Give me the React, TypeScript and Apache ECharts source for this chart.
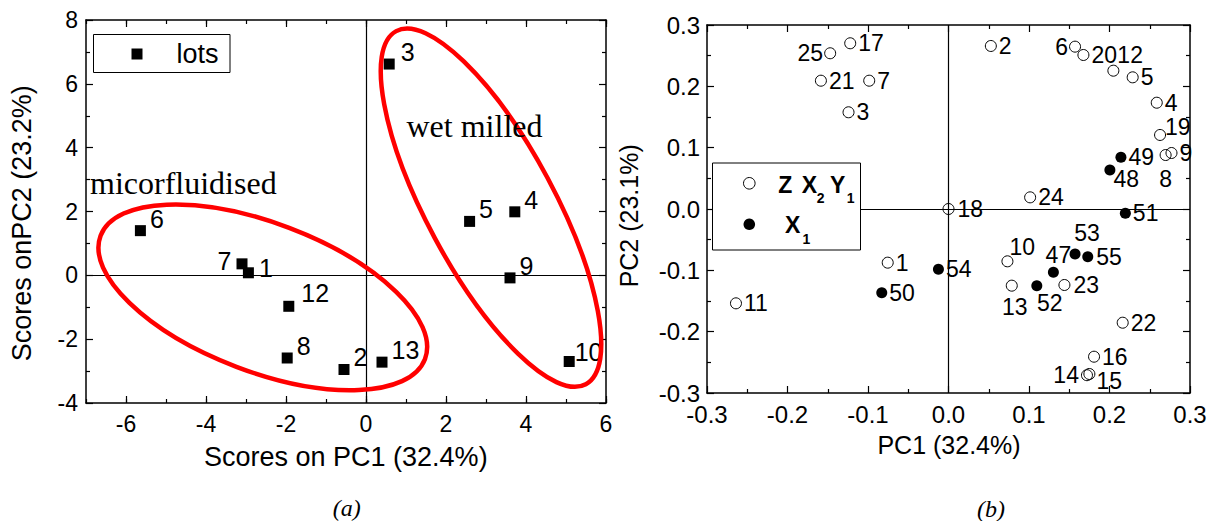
import React, { useEffect, useRef } from "react";
import * as echarts from "echarts";

// ---------------- data ----------------
// panel (a): scores of lots
const lotIds = ["1", "2", "3", "4", "5", "6", "7", "8", "9", "10", "12", "13"];
const lotPC1 = [-2.94, -0.55, 0.58, 3.72, 2.59, -5.64, -3.1, -1.97, 3.6, 5.08, -1.93, 0.4];
const lotPC2 = [0.08, -2.95, 6.62, 1.99, 1.69, 1.4, 0.36, -2.59, -0.08, -2.7, -0.97, -2.72];

// panel (b): Z X2 Y1 variables (open circles)
const zxyIds = ["1", "2", "3", "4", "5", "6", "7", "8", "9", "10", "11", "12", "13", "14", "15", "16", "17", "18", "19", "20", "21", "22", "23", "24", "25"];
const zxyPC1 = [-0.0755, 0.0526, -0.1242, 0.2587, 0.2288, 0.1572, -0.0985, 0.2697, 0.277, 0.0732, -0.264, 0.2048, 0.0786, 0.172, 0.175, 0.1808, -0.1221, 0.0, 0.2628, 0.1676, -0.1585, 0.2164, 0.144, 0.1014, -0.147];
const zxyPC2 = [-0.0875, 0.2658, 0.1577, 0.1733, 0.2147, 0.2647, 0.2092, 0.088, 0.0913, -0.0853, -0.1538, 0.2255, -0.125, -0.271, -0.269, -0.2408, 0.2702, 0.0, 0.1207, 0.2511, 0.2092, -0.1854, -0.1239, 0.019, 0.2539];

// panel (b): X1 variables (filled circles)
const x1Ids = ["47", "48", "49", "50", "51", "52", "53", "54", "55"];
const x1PC1 = [0.1303, 0.2005, 0.2142, -0.0829, 0.2197, 0.1097, 0.1572, -0.0125, 0.173];
const x1PC2 = [-0.1033, 0.0636, 0.0843, -0.1364, -0.0071, -0.125, -0.0734, -0.0984, -0.0777];

// tick labels
const leftXTicks = [-6, -4, -2, 0, 2, 4, 6];
const leftYTicks = [-4, -2, 0, 2, 4, 6, 8];
const rightTicks = [-0.3, -0.2, -0.1, 0.0, 0.1, 0.2, 0.3];

// group ellipses (centres in data units of panel a)
const groupNames = ["micorfluidised", "wet milled"];
const ellipseCenterPC1 = [-2.58, 3.125];
const ellipseCenterPC2 = [-0.69, 2.12];

// ---------------- styles ----------------
const SANS = '"Liberation Sans", Arial, Helvetica, sans-serif';
const SERIF = '"Liberation Serif", "Times New Roman", Times, serif';
const BLACK = "#000";

type LL = { p: string; d: number; o: [number, number] };
const leftLabelLayout: Record<string, LL> = {
  "7": { p: "left", d: 5, o: [0, -3] },
  "1": { p: "right", d: 5, o: [0, -5] },
  "10": { p: "right", d: 0, o: [0, -10] },
  "12": { p: "right", d: 7, o: [0, -13] },
  "3": { p: "right", d: 6, o: [0, -12] },
};
const leftDefault: LL = { p: "right", d: 4, o: [0, -12] };

const rightLabelLayout: Record<string, LL> = {
  "25": { p: "left", d: 1, o: [0, 0] },
  "6": { p: "left", d: 1, o: [0, 0] },
  "14": { p: "left", d: 2, o: [0, 0] },
  "12": { p: "right", d: 1, o: [-3, -16] },
  "19": { p: "right", d: 0, o: [-1, -8] },
  "8": { p: "bottom", d: 6, o: [0, 0] },
  "48": { p: "right", d: 1, o: [-3, 9] },
  "10": { p: "right", d: 1, o: [-5, -14] },
  "13": { p: "bottom", d: 4, o: [3, 0] },
  "52": { p: "bottom", d: 0, o: [13, 0] },
  "53": { p: "top", d: 4, o: [12, 0] },
  "47": { p: "top", d: 0, o: [5, 0] },
  "15": { p: "right", d: 1, o: [0, 7] },
  "18": { p: "right", d: 3, o: [0, 0] },
  "55": { p: "right", d: 3, o: [0, 0] },
  "23": { p: "right", d: 3, o: [0, 0] },
};
const rightDefault: LL = { p: "right", d: 2, o: [0, 0] };

const fmt1 = (v: number) => {
  const r = Math.round(v * 10) / 10;
  return (Math.abs(r) < 1e-9 ? 0 : r).toFixed(1);
};

const lineStyle = { color: BLACK, width: 1.5 };
const tickStyle = { color: BLACK, width: 1.2 };

function buildItems(ids: string[], xs: number[], ys: number[], layout: Record<string, LL>, def: LL) {
  return ids.map((id, i) => {
    const l = layout[id] || def;
    return {
      name: id,
      value: [xs[i], ys[i]],
      label: { position: l.p, distance: l.d, offset: l.o },
    };
  });
}

function frameAxis(extra: any) {
  return {
    type: "value",
    axisLine: { show: true, onZero: false, lineStyle },
    axisTick: { show: true, inside: true, length: 7, lineStyle: tickStyle },
    splitLine: { show: false },
    axisLabel: { show: false },
    ...extra,
  };
}

const zeroLines = {
  silent: true,
  symbol: ["none", "none"],
  label: { show: false },
  lineStyle: { color: BLACK, width: 1.2, type: "solid", opacity: 1 },
  emphasis: { disabled: true },
  data: [{ xAxis: 0 }, { yAxis: 0 }],
};

const labelBase = (size: number) => ({
  show: true, formatter: "{b}", fontSize: size, lineHeight: size,
  fontFamily: SANS, color: BLACK, opacity: 1,
});

export default function App() {
  const ref = useRef<HTMLDivElement>(null);

  useEffect(() => {
    if (!ref.current) return;
    const chart = echarts.init(ref.current, null, { renderer: "svg" });

    const option: any = {
      animation: false,
      backgroundColor: "#fff",
      grid: [
        { left: 86, top: 20, width: 520, height: 383, outerBoundsMode: "none", containLabel: false },
        { left: 707, top: 25, width: 483, height: 368, outerBoundsMode: "none", containLabel: false },
      ],
      xAxis: [
        frameAxis({
          gridIndex: 0, position: "bottom", min: -7, max: 6, interval: 1,
          axisTick: { show: true, inside: true, length: 4, lineStyle: tickStyle },
          axisLabel: {
            show: true, margin: 9, fontSize: 23, fontFamily: SANS, color: BLACK,
            formatter: (v: number) => (leftXTicks.includes(v) ? String(v) : ""),
          },
        }),
        frameAxis({
          gridIndex: 0, position: "bottom", min: -7, max: 6, splitNumber: 6,
          axisLine: { show: false, onZero: false },
          axisTick: { show: true, inside: true, length: 7, lineStyle: tickStyle, customValues: leftXTicks },
        }),
        frameAxis({
          gridIndex: 0, position: "top", min: -7, max: 6, interval: 1,
          axisTick: { show: true, inside: true, length: 4, lineStyle: tickStyle },
        }),
        frameAxis({
          gridIndex: 0, position: "top", min: -7, max: 6, splitNumber: 6,
          axisLine: { show: false, onZero: false },
          axisTick: { show: true, inside: true, length: 7, lineStyle: tickStyle, customValues: leftXTicks },
        }),
        frameAxis({
          gridIndex: 1, position: "bottom", min: -0.3, max: 0.3, interval: 0.1,
          minorTick: { show: true, splitNumber: 2, length: 4, lineStyle: tickStyle },
          axisLabel: { show: true, margin: 9, fontSize: 24, fontFamily: SANS, color: BLACK, formatter: fmt1 },
        }),
        frameAxis({
          gridIndex: 1, position: "top", min: -0.3, max: 0.3, interval: 0.1,
          minorTick: { show: true, splitNumber: 2, length: 4, lineStyle: tickStyle },
        }),
      ],
      yAxis: [
        frameAxis({
          gridIndex: 0, position: "left", min: leftYTicks[0], max: leftYTicks[leftYTicks.length - 1], interval: 2,
          minorTick: { show: true, splitNumber: 2, length: 4, lineStyle: tickStyle },
          axisLabel: { show: true, margin: 8, fontSize: 23, fontFamily: SANS, color: BLACK },
        }),
        frameAxis({
          gridIndex: 0, position: "right", min: leftYTicks[0], max: leftYTicks[leftYTicks.length - 1], interval: 2,
          minorTick: { show: true, splitNumber: 2, length: 4, lineStyle: tickStyle },
        }),
        frameAxis({
          gridIndex: 1, position: "left", min: rightTicks[0], max: rightTicks[rightTicks.length - 1], interval: 0.1,
          minorTick: { show: true, splitNumber: 2, length: 4, lineStyle: tickStyle },
          axisLabel: { show: true, margin: 7, fontSize: 24, fontFamily: SANS, color: BLACK, formatter: fmt1 },
        }),
        frameAxis({
          gridIndex: 1, position: "right", min: rightTicks[0], max: rightTicks[rightTicks.length - 1], interval: 0.1,
          minorTick: { show: true, splitNumber: 2, length: 4, lineStyle: tickStyle },
        }),
      ],
      series: [
        {
          type: "scatter", name: "lots", xAxisIndex: 0, yAxisIndex: 0,
          symbol: "rect", symbolSize: 11,
          itemStyle: { color: BLACK, opacity: 1 },
          emphasis: { disabled: true },
          label: labelBase(25),
          data: buildItems(lotIds, lotPC1, lotPC2, leftLabelLayout, leftDefault),
          markLine: zeroLines,
        },
        {
          type: "scatter", name: "Z X2 Y1", xAxisIndex: 4, yAxisIndex: 2,
          symbol: "circle", symbolSize: 11,
          itemStyle: { color: "rgba(255,255,255,0)", borderColor: BLACK, borderWidth: 1, opacity: 1 },
          emphasis: { disabled: true },
          label: labelBase(23),
          data: buildItems(zxyIds, zxyPC1, zxyPC2, rightLabelLayout, rightDefault),
          markLine: zeroLines,
        },
        {
          type: "scatter", name: "X1", xAxisIndex: 4, yAxisIndex: 2,
          symbol: "circle", symbolSize: 11,
          itemStyle: { color: BLACK, opacity: 1 },
          emphasis: { disabled: true },
          label: labelBase(23),
          data: buildItems(x1Ids, x1PC1, x1PC2, rightLabelLayout, rightDefault),
        },
      ],
    };
    chart.setOption(option);

    const c0 = chart.convertToPixel({ xAxisIndex: 0, yAxisIndex: 0 }, [ellipseCenterPC1[0], ellipseCenterPC2[0]]) as number[];
    const c1 = chart.convertToPixel({ xAxisIndex: 0, yAxisIndex: 0 }, [ellipseCenterPC1[1], ellipseCenterPC2[1]]) as number[];
    const deg = Math.PI / 180;

    const txt = (x: number, y: number, text: string, fontSize: number, extra: any = {}) => ({
      type: "text", x, y, z: 100, silent: true,
      ...(extra.rotation != null ? { rotation: extra.rotation } : {}),
      style: {
        text, fontSize, fontFamily: extra.fontFamily || SANS, fontWeight: extra.fontWeight || "normal",
        fontStyle: extra.fontStyle || "normal", fill: BLACK,
        align: extra.align || "center", textAlign: extra.align || "center",
        verticalAlign: "middle", textVerticalAlign: "middle",
      },
    });

    const graphics: any[] = [
      // ellipses
      {
        type: "ellipse", x: c0[0], y: c0[1], rotation: -20.8 * deg, z: 100, silent: true,
        shape: { cx: 0, cy: 0, rx: 173.5, ry: 74.3 },
        style: { fill: "none", stroke: "#ff0000", lineWidth: 4.5 },
      },
      {
        type: "ellipse", x: c1[0], y: c1[1], rotation: -61.8 * deg, z: 100, silent: true,
        shape: { cx: 0, cy: 0, rx: 200.4, ry: 63.9 },
        style: { fill: "none", stroke: "#ff0000", lineWidth: 4.5 },
      },
      txt(90, 182.8, groupNames[0], 32, { fontFamily: SERIF, align: "left" }),
      txt(406.5, 125.5, groupNames[1], 32, { fontFamily: SERIF, align: "left" }),
      // left legend
      {
        type: "rect", z: 100, silent: true,
        shape: { x: 93.5, y: 34.5, width: 136.5, height: 38 },
        style: { fill: "#fff", stroke: BLACK, lineWidth: 1 },
      },
      { type: "rect", z: 101, silent: true, shape: { x: 131.5, y: 48.5, width: 11, height: 11 }, style: { fill: BLACK } },
      txt(176.5, 54, "lots", 27, { align: "left" }),
      // left axis titles
      txt(345.8, 457.3, "Scores on PC1 (32.4%)", 27),
      txt(21.7, 223.3, "Scores onPC2 (23.2%)", 27, { rotation: Math.PI / 2 }),
      txt(346.7, 508, "(a)", 24, { fontFamily: SERIF, fontStyle: "italic" }),
      // right legend
      {
        type: "rect", z: 100, silent: true,
        shape: { x: 712.5, y: 163, width: 148, height: 87 },
        style: { fill: "#fff", stroke: BLACK, lineWidth: 1 },
      },
      { type: "circle", z: 101, silent: true, shape: { cx: 749.3, cy: 183.3, r: 5.8 }, style: { fill: "none", stroke: BLACK, lineWidth: 1 } },
      { type: "circle", z: 101, silent: true, shape: { cx: 749.3, cy: 224.3, r: 5.8 }, style: { fill: BLACK } },
      txt(778.3, 185.2, "Z", 23, { fontWeight: "bold", align: "left" }),
      txt(801.7, 185.2, "X", 23, { fontWeight: "bold", align: "left" }),
      txt(816.7, 198.4, "2", 14, { fontWeight: "bold", align: "left" }),
      txt(830, 185.2, "Y", 23, { fontWeight: "bold", align: "left" }),
      txt(846.7, 198.4, "1", 14, { fontWeight: "bold", align: "left" }),
      txt(785, 224.5, "X", 23, { fontWeight: "bold", align: "left" }),
      txt(802.5, 238.6, "1", 14, { fontWeight: "bold", align: "left" }),
      // right axis titles
      txt(949, 445, "PC1 (32.4%)", 25),
      txt(629.2, 215.8, "PC2 (23.1%)", 25, { rotation: Math.PI / 2 }),
      txt(991, 509, "(b)", 24, { fontFamily: SERIF, fontStyle: "italic" }),
    ];

    chart.setOption({ graphic: { elements: graphics } });

    return () => {
      chart.dispose();
    };
  }, []);

  return (
    <div
      ref={ref}
      style={{ position: "fixed", left: 0, top: 0, width: 1215, height: 521, background: "#fff" }}
    />
  );
}
